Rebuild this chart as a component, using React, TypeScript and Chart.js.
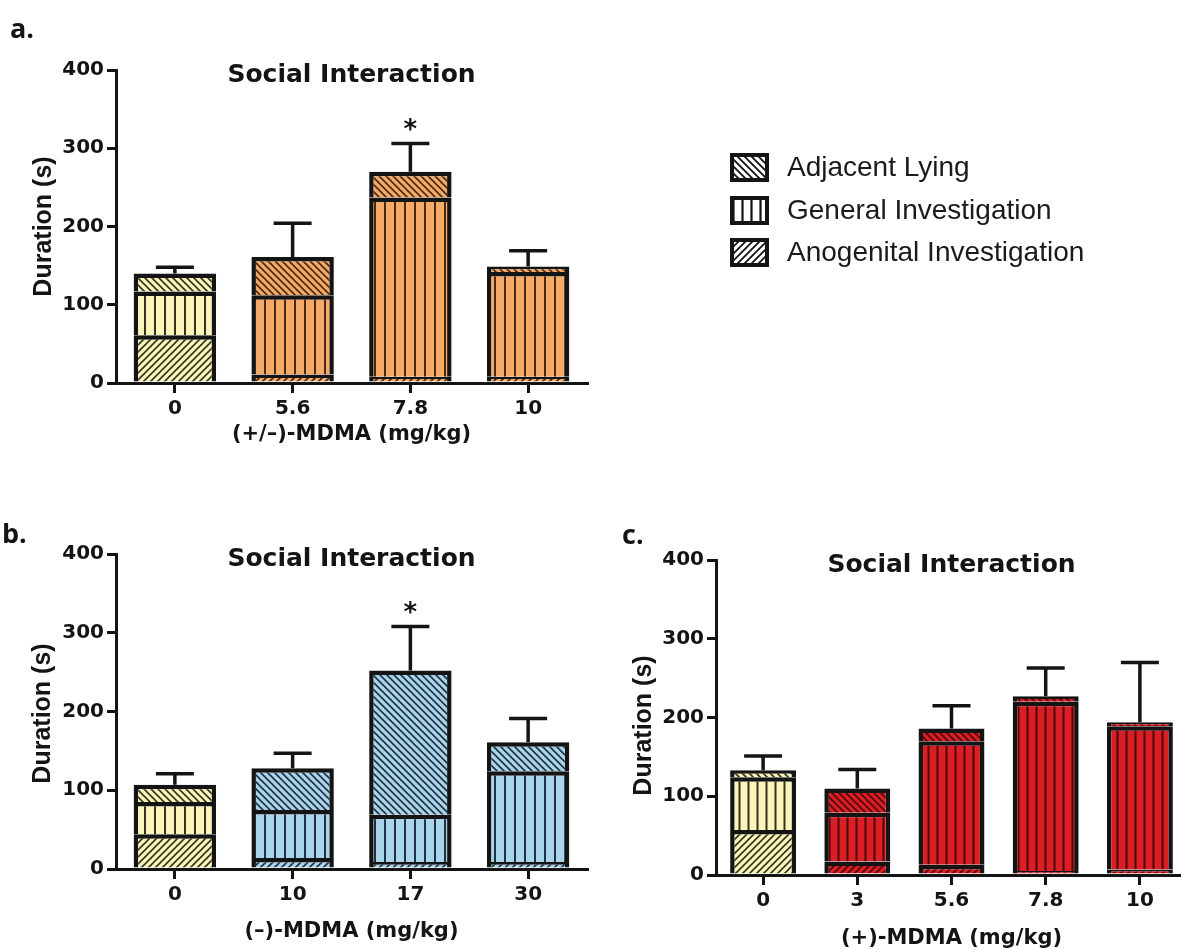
import React, { useEffect, useRef } from "react";
import { Chart, registerables } from "chart.js";

Chart.register(...registerables);

// ---------- DATA ----------
const seriesNames = ["Anogenital Investigation", "General Investigation", "Adjacent Lying"];
const legendOrder = ["Adjacent Lying", "General Investigation", "Anogenital Investigation"];
const yTicks = [0, 100, 200, 300, 400];

// Panel a: (+/–)-MDMA
const catsA = ["0", "5.6", "7.8", "10"];
const anoA = [61, 11, 8, 8];
const genA = [56, 101, 229, 134];
const adjA = [23, 49, 33, 7];
const semA = [8, 43, 36, 20];
const starsA = ["", "", "*", ""];

// Panel b: (–)-MDMA
const catsB = ["0", "10", "17", "30"];
const anoB = [44, 14, 9, 9];
const genB = [41, 61, 60, 115];
const adjB = [22, 53, 183, 37];
const semB = [14, 19, 56, 30];
const starsB = ["", "", "*", ""];

// Panel c: (+)-MDMA
const catsC = ["0", "3", "5.6", "7.8", "10"];
const anoC = [57, 17, 13, 5, 7];
const genC = [67, 62, 157, 215, 182];
const adjC = [9, 31, 16, 7, 5];
const semC = [18, 24, 29, 36, 76];
const starsC = ["", "", "", "", ""];

// ---------- STYLE ----------
const FONT_B = '"DejaVu Sans", "Liberation Sans", sans-serif';
const INK = "#141414";
const YELLOW = "#fbf5bb";
const ORANGE = "#f6aa68";
const BLUE = "#a9d5ec";
const RED = "#d91e26";

type Kind = "vert" | "fwd" | "back";

function makePattern(kind: Kind, base: string, line: string, size: number, lw: number) {
  const c = document.createElement("canvas");
  c.width = size;
  c.height = size;
  const g = c.getContext("2d")!;
  g.fillStyle = base;
  g.fillRect(0, 0, size, size);
  g.strokeStyle = line;
  g.lineWidth = lw;
  g.beginPath();
  if (kind === "vert") {
    g.moveTo(size / 2, 0);
    g.lineTo(size / 2, size);
  } else if (kind === "fwd") {
    g.moveTo(0, size);
    g.lineTo(size, 0);
    g.moveTo(-size, size);
    g.lineTo(size, -size);
    g.moveTo(0, 2 * size);
    g.lineTo(2 * size, 0);
  } else {
    g.moveTo(0, 0);
    g.lineTo(size, size);
    g.moveTo(-size, 0);
    g.lineTo(size, 2 * size);
    g.moveTo(0, -size);
    g.lineTo(2 * size, size);
  }
  g.stroke();
  return g.createPattern(c, "repeat")!;
}

function patternsFor(base: string, line: string, vstep: number) {
  return {
    ano: makePattern("fwd", base, line, 7, 1.6),
    gen: makePattern("vert", base, line, vstep, 2),
    adj: makePattern("back", base, line, 7, 1.6),
  };
}

interface PanelSpec {
  cats: string[];
  ano: number[];
  gen: number[];
  adj: number[];
  sem: number[];
  stars: string[];
  color: string;
  lineColor: string;
  vstep: number;
  xTitle: string;
  label: string;
  labelPos: [number, number];
  xTitleGap: number;
  yTitleDx: number;
  yTitleDy: number;
  width: number;
  height: number;
  area: { left: number; top: number; right: number; bottom: number };
  legend?: boolean;
}

function buildChart(canvas: HTMLCanvasElement, p: PanelSpec) {
  const ctrl = patternsFor(YELLOW, "rgba(30,30,10,0.9)", p.vstep);
  const drug = patternsFor(p.color, p.lineColor, p.vstep);
  const pick = (key: "ano" | "gen" | "adj") => (c: any) => (c.dataIndex === 0 ? ctrl[key] : drug[key]);

  const xH = 60;
  const ds = (label: string, data: number[], key: "ano" | "gen" | "adj") => ({
    label,
    data,
    backgroundColor: pick(key),
    borderColor: INK,
    borderWidth: 4.5,
    borderSkipped: "start",
    categoryPercentage: 1,
    barPercentage: 0.7,
  });

  const decor = {
    id: "decor" + p.label,
    afterDatasetsDraw(chart: any) {
      const { ctx, scales } = chart;
      const xs = scales.x;
      const ys = scales.y;
      ctx.save();
      ctx.strokeStyle = INK;
      ctx.fillStyle = INK;
      ctx.lineWidth = 3.5;
      p.cats.forEach((_, i) => {
        const total = p.ano[i] + p.gen[i] + p.adj[i];
        const x = xs.getPixelForValue(i);
        const yT = ys.getPixelForValue(total);
        const yE = ys.getPixelForValue(total + p.sem[i]);
        ctx.beginPath();
        ctx.moveTo(x, yT);
        ctx.lineTo(x, yE);
        ctx.moveTo(x - 19, yE);
        ctx.lineTo(x + 19, yE);
        ctx.stroke();
        if (p.stars[i]) {
          ctx.font = `bold 26px ${FONT_B}`;
          ctx.textAlign = "center";
          ctx.textBaseline = "middle";
          ctx.fillText(p.stars[i], x, yE - 12);
        }
      });
      ctx.restore();
    },
    afterDraw(chart: any) {
      const { ctx, chartArea: ca } = chart;
      ctx.save();
      ctx.fillStyle = INK;
      // title
      ctx.font = `bold 25px ${FONT_B}`;
      ctx.textAlign = "center";
      ctx.textBaseline = "middle";
      const cx = (ca.left + ca.right) / 2;
      ctx.fillText("Social Interaction", cx, ca.top + 5);
      // x title
      ctx.font = `bold 21px ${FONT_B}`;
      ctx.fillText(p.xTitle, cx, ca.bottom + p.xTitleGap);
      // y title
      ctx.save();
      ctx.translate(ca.left - p.yTitleDx, (ca.top + ca.bottom) / 2 + p.yTitleDy);
      ctx.rotate(-Math.PI / 2);
      ctx.font = `bold 25px "Liberation Sans", Arial, sans-serif`;
      ctx.fillText("Duration (s)", 0, 0);
      ctx.restore();
      // panel label
      ctx.font = `bold 27px "Open Sans", "Liberation Sans", sans-serif`;
      ctx.textAlign = "left";
      ctx.textBaseline = "alphabetic";
      ctx.fillText(p.label, p.labelPos[0], p.labelPos[1]);

      if (p.legend) {
        const sw = {
          "Adjacent Lying": makePattern("back", "#ffffff", "#111", 7, 1.8),
          "General Investigation": makePattern("vert", "#ffffff", "#111", 9, 2.2),
          "Anogenital Investigation": makePattern("fwd", "#ffffff", "#111", 7, 1.8),
        } as Record<string, CanvasPattern>;
        const rows = [167, 210, 252];
        legendOrder.forEach((name, k) => {
          const y = rows[k];
          ctx.fillStyle = sw[name];
          ctx.fillRect(732, y - 12, 35, 25);
          ctx.strokeStyle = INK;
          ctx.lineWidth = 4;
          ctx.strokeRect(732, y - 12, 35, 25);
          ctx.fillStyle = "#1a1a1a";
          ctx.font = `28px "Liberation Sans", Arial, sans-serif`;
          ctx.textAlign = "left";
          ctx.textBaseline = "middle";
          ctx.fillText(name, 787, y + 1);
        });
      }
      ctx.restore();
    },
  };

  const tickFont = { family: FONT_B, weight: "bold" as const, size: 20 };

  return new Chart(canvas, {
    type: "bar",
    data: {
      labels: p.cats,
      datasets: [ds(seriesNames[0], p.ano, "ano"), ds(seriesNames[1], p.gen, "gen"), ds(seriesNames[2], p.adj, "adj")] as any,
    },
    options: {
      responsive: false,
      animation: false,
      devicePixelRatio: 1,
      layout: {
        padding: {
          left: 0,
          top: p.area.top,
          right: p.width - p.area.right,
          bottom: p.height - p.area.bottom - xH,
        },
      },
      plugins: { legend: { display: false }, tooltip: { enabled: false }, title: { display: false } },
      scales: {
        x: {
          stacked: true,
          offset: true,
          afterFit(scale: any) {
            scale.height = xH;
          },
          grid: { offset: false, drawOnChartArea: false, drawTicks: true, tickLength: 10, color: INK, lineWidth: 3 },
          border: { display: true, color: INK, width: 3 },
          ticks: { color: INK, font: tickFont, padding: 4, maxRotation: 0 },
        },
        y: {
          stacked: true,
          min: 0,
          max: 400,
          afterFit(scale: any) {
            scale.width = p.area.left;
          },
          afterBuildTicks(scale: any) {
            scale.ticks = yTicks.map((v) => ({ value: v }));
          },
          grid: { drawOnChartArea: false, drawTicks: true, tickLength: 9, color: INK, lineWidth: 3 },
          border: { display: true, color: INK, width: 3 },
          ticks: { color: INK, font: tickFont, padding: 3 },
        },
      },
    },
    plugins: [decor],
  } as any);
}

const panelA: PanelSpec = {
  cats: catsA, ano: anoA, gen: genA, adj: adjA, sem: semA, stars: starsA,
  color: ORANGE, lineColor: "rgba(40,20,0,0.85)", vstep: 10,
  xTitle: "(+/–)-MDMA (mg/kg)", label: "a.", labelPos: [10, 38],
  xTitleGap: 52, yTitleDx: 72, yTitleDy: 0,
  width: 1181, height: 470,
  area: { left: 116, top: 70, right: 587, bottom: 383 },
  legend: true,
};

const panelB: PanelSpec = {
  cats: catsB, ano: anoB, gen: genB, adj: adjB, sem: semB, stars: starsB,
  color: BLUE, lineColor: "rgba(10,20,30,0.85)", vstep: 10,
  xTitle: "(–)-MDMA (mg/kg)", label: "b.", labelPos: [2, 73],
  xTitleGap: 63, yTitleDx: 73, yTitleDy: 2,
  width: 600, height: 480,
  area: { left: 116, top: 84, right: 587, bottom: 399 },
};

const panelC: PanelSpec = {
  cats: catsC, ano: anoC, gen: genC, adj: adjC, sem: semC, stars: starsC,
  color: RED, lineColor: "rgba(45,0,0,0.8)", vstep: 9,
  xTitle: "(+)-MDMA (mg/kg)", label: "c.", labelPos: [22, 74],
  xTitleGap: 64, yTitleDx: 72, yTitleDy: 8,
  width: 620, height: 480,
  area: { left: 116, top: 90, right: 587, bottom: 405 },
};

function Panel({ spec, left, top }: { spec: PanelSpec; left: number; top: number }) {
  const ref = useRef<HTMLCanvasElement | null>(null);
  useEffect(() => {
    if (!ref.current) return;
    const chart = buildChart(ref.current, spec);
    return () => chart.destroy();
  }, [spec]);
  return (
    <canvas
      ref={ref}
      width={spec.width}
      height={spec.height}
      style={{ position: "absolute", left, top, width: spec.width, height: spec.height }}
    />
  );
}

export default function App() {
  return (
    <div
      style={{
        position: "absolute",
        left: 0,
        top: 0,
        width: 1181,
        height: 950,
        overflow: "hidden",
        background: "#ffffff",
      }}
    >
      <Panel spec={panelA} left={0} top={0} />
      <Panel spec={panelB} left={0} top={470} />
      <Panel spec={panelC} left={600} top={470} />
    </div>
  );
}
